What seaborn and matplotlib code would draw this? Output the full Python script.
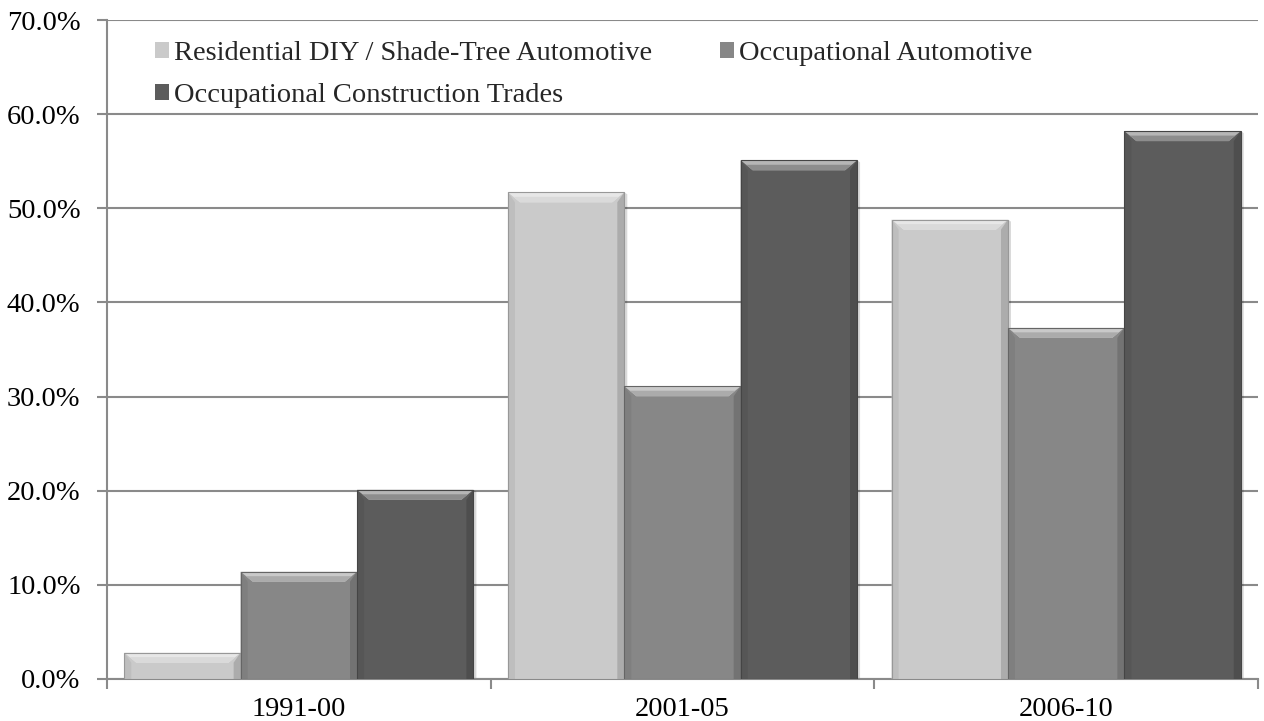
import numpy as np
import pandas as pd
import matplotlib
matplotlib.use("Agg")
import matplotlib.pyplot as plt
import seaborn as sns
from matplotlib.patches import Polygon
from matplotlib.colors import to_rgb

periods = ["1991-00", "2001-05", "2006-10"]
series = ["Residential DIY / Shade-Tree Automotive", "Occupational Automotive", "Occupational Construction Trades"]
residential = [2.8, 51.7, 48.8]
occ_auto = [11.4, 31.1, 37.3]
occ_constr = [20.1, 55.1, 58.2]
colors = ["#cacaca", "#878787", "#5c5c5c"]
yticks = [0, 10, 20, 30, 40, 50, 60, 70]

rows = []
for s, vals in zip(series, [residential, occ_auto, occ_constr]):
    for p, v in zip(periods, vals):
        rows.append({"period": p, "series": s, "value": v})
df = pd.DataFrame(rows)

sns.set_theme(style="white")
plt.rcParams['font.family'] = ['Liberation Serif', 'DejaVu Serif']
FS = 20.5

fig = plt.figure(figsize=(12.64, 7.21), dpi=100)
ax = fig.add_axes([107/1264, 42/721, 1151/1264, 659/721])

sns.barplot(data=df, x="period", y="value", hue="series", order=periods,
            hue_order=series, palette=colors, width=0.91, gap=0, saturation=1,
            linewidth=0, ax=ax, zorder=3, legend=True)

ax.set_ylim(0, 70)
ax.set_xlim(-0.5, 2.5)
ax.set_yticks(yticks)
ax.set_yticklabels([f"{t:.1f}%" for t in yticks])
ax.yaxis.grid(True, color="#8a8a8a", linewidth=1.5, zorder=0)
ax.set_axisbelow(True)
ax.set_xlabel("")
ax.set_ylabel("")

for side in ["top", "right"]:
    ax.spines[side].set_visible(False)
for side in ["left", "bottom"]:
    ax.spines[side].set_color("#8a8a8a")
    ax.spines[side].set_linewidth(1.5)

ax.tick_params(axis="y", which="major", direction="out", length=7, width=1.5,
               color="#8a8a8a", pad=12, labelsize=FS, labelcolor="black", left=True)
ax.tick_params(axis="x", which="major", length=0, pad=13, labelsize=FS,
               labelcolor="black", bottom=True)
ax.set_xticks([-0.5, 0.5, 1.5, 2.5], minor=True)
ax.tick_params(axis="x", which="minor", direction="out", length=7, width=1.5,
               color="#8a8a8a", bottom=True)

# bevel overlays derived from the bar patches
px_x = 3.0 / 1151.0
px_y = 70.0 / 659.0
bw = 12 * px_x
bh = 10 * px_y
sw = 7 * px_x

def blend(c, target, a):
    c = np.array(to_rgb(c)); t = np.array(to_rgb(target))
    return tuple(c * (1 - a) + t * a)

bars = [p for p in ax.patches if p.get_height() > 0]
for p in bars:
    x, w, h = p.get_x(), p.get_width(), p.get_height()
    base = p.get_facecolor()
    # soft shadow
    ax.add_patch(Polygon([(x + w, 0), (x + w + 3 * px_x, 0), (x + w + 3 * px_x, h - 2 * px_y), (x + w, h)],
                         closed=True, facecolor="black", alpha=0.15, lw=0, zorder=2))
    # side bevels
    ax.add_patch(Polygon([(x, 0), (x, h), (x + sw, h - bh), (x + sw, 0)],
                         closed=True, facecolor=blend(base, "black", 0.06), lw=0, zorder=4))
    ax.add_patch(Polygon([(x + w, 0), (x + w, h), (x + w - sw, h - bh), (x + w - sw, 0)],
                         closed=True, facecolor=blend(base, "black", 0.15), lw=0, zorder=4))
    # top bevel
    ax.add_patch(Polygon([(x, h), (x + w, h), (x + w - bw, h - bh), (x + bw, h - bh)],
                         closed=True, facecolor=blend(base, "white", 0.55), lw=0, zorder=4))
    ax.add_patch(Polygon([(x + bw * 0.45, h - bh * 0.45), (x + w - bw * 0.45, h - bh * 0.45),
                          (x + w - bw, h - bh), (x + bw, h - bh)],
                         closed=True, facecolor=blend(base, "white", 0.3), lw=0, zorder=4))
    # outline
    ax.add_patch(Polygon([(x, 0), (x, h), (x + w, h), (x + w, 0)], closed=True,
                         fill=False, edgecolor=blend(base, "black", 0.25), lw=0.8, zorder=5))

handles, labels = ax.get_legend_handles_labels()
ax.legend([handles[0], handles[2], handles[1]], [labels[0], labels[2], labels[1]],
          ncol=2, loc="upper left", bbox_to_anchor=(0.032, 0.985), frameon=False,
          fontsize=FS, handlelength=0.5, handleheight=0.5, handletextpad=0.15,
          columnspacing=2.4, labelspacing=0.6, borderaxespad=0)

fig.savefig("out.png", dpi=100, facecolor="white")
